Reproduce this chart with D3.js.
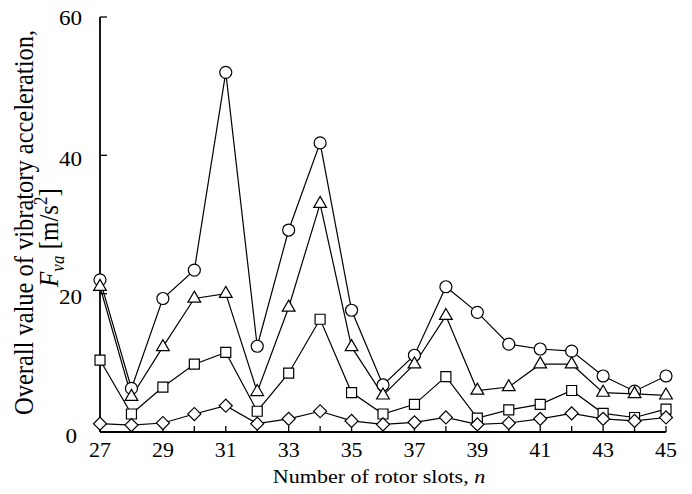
<!DOCTYPE html>
<html>
<head>
<meta charset="utf-8">
<script src="https://cdn.jsdelivr.net/npm/d3@7"></script>
<style>
  body { margin: 0; background: #fff; }
  svg { display: block; }
</style>
</head>
<body>
<svg id="chart" width="692" height="494" font-family="'Liberation Serif', 'Times New Roman', Times, serif"></svg>
<script>
const slots = [27,28,29,30,31,32,33,34,35,36,37,38,39,40,41,42,43,44,45];
const circleSeries   = [22.0,6.3,19.3,23.4,52.0,12.4,29.2,41.8,17.6,6.8,11.1,21.0,17.3,12.7,12.0,11.7,8.1,5.9,8.1];
const triangleSeries = [21.0,5.1,12.3,19.3,20.0,5.8,18.0,33.0,12.3,5.3,9.8,16.8,6.0,6.5,9.8,9.8,5.7,5.5,5.3];
const squareSeries   = [10.4,2.6,6.5,9.8,11.5,3.0,8.5,16.3,5.7,2.6,4.0,8.0,2.0,3.2,4.0,6.0,2.7,2.1,3.3];
const diamondSeries  = [1.2,1.0,1.3,2.6,3.8,1.2,1.9,3.0,1.6,1.1,1.4,2.1,1.1,1.3,1.9,2.7,1.9,1.6,2.1];
const xTickLabels = [27,29,31,33,35,37,39,41,43,45];
const yTickLabels = [0,20,40,60];

const FONT = "'Liberation Serif', 'Times New Roman', Times, serif";
const svg = d3.select("#chart");
const x = d3.scaleLinear().domain([27,45]).range([100,666]);
const y = d3.scaleLinear().domain([0,60]).range([432,17]);

// axes lines
svg.append("line").attr("x1",x(27)).attr("x2",x(45)).attr("y1",y(0)).attr("y2",y(0))
  .attr("stroke","#000").attr("stroke-width",1.8);
svg.append("line").attr("x1",x(27)).attr("x2",x(27)).attr("y1",y(0)).attr("y2",y(60))
  .attr("stroke","#000").attr("stroke-width",1.8);

// x ticks (inward)
svg.selectAll(".xt").data(slots).enter().append("line")
  .attr("x1",d=>x(d)).attr("x2",d=>x(d)).attr("y1",y(0)).attr("y2",y(0)-6)
  .attr("stroke","#000").attr("stroke-width",1.3);
svg.selectAll(".xl").data(xTickLabels).enter().append("text")
  .attr("font-family",FONT).attr("font-size",21).attr("text-anchor","middle")
  .attr("transform",d=>`translate(${x(d)},457) scale(1.04,1)`).text(d=>d);

// y ticks (inward)
svg.selectAll(".yt").data(yTickLabels.filter(d=>d>0)).enter().append("line")
  .attr("x1",x(27)).attr("x2",x(27)+7).attr("y1",d=>y(d)).attr("y2",d=>y(d))
  .attr("stroke","#000").attr("stroke-width",1.3);
svg.selectAll(".yl").data(yTickLabels).enter().append("text")
  .attr("font-family",FONT).attr("font-size",21).attr("text-anchor","end")
  .attr("transform",d=>`translate(${d===0 ? 77 : 82},${y(d) + (d===60 ? 8 : 10.5)}) scale(1.1,1)`)
  .text(d=>d);

// axis titles
svg.append("text").attr("font-family",FONT).attr("font-size",18.6).attr("text-anchor","middle")
  .attr("transform","translate(379,483) scale(1.18,1)")
  .attr("textLength", 180).attr("lengthAdjust","spacingAndGlyphs")
  .html('Number of rotor slots, <tspan font-style="italic">n</tspan>');

svg.append("text").attr("font-family",FONT).attr("font-size",24).attr("text-anchor","middle")
  .attr("transform","translate(33,222.5) scale(1.1,1) rotate(-90)")
  .attr("textLength", 385).attr("lengthAdjust","spacingAndGlyphs")
  .text("Overall value of vibratory acceleration,");

svg.append("text").attr("font-family",FONT).attr("font-size",25).attr("text-anchor","middle")
  .attr("transform","translate(58,237.5) scale(1.1,1) rotate(-90)")
  .html('<tspan font-style="italic">F</tspan><tspan font-style="italic" font-size="17" dy="5">va</tspan><tspan dy="-5"> [m/s</tspan><tspan font-size="17" dy="-10">2</tspan><tspan dy="10">]</tspan>');

const series = [
  {vals: circleSeries, sym: d3.symbolCircle, size: 113, rot: 0},
  {vals: triangleSeries, sym: d3.symbolTriangle, size: 70, rot: 0},
  {vals: squareSeries, sym: d3.symbolSquare, size: 100, rot: 0},
  {vals: diamondSeries, sym: d3.symbolSquare, size: 85, rot: 45}
];
const line = d3.line().x((d,i)=>x(slots[i])).y(d=>y(d));
series.forEach(s=>{
  svg.append("path").attr("d",line(s.vals)).attr("fill","none").attr("stroke","#000").attr("stroke-width",1.2);
});
series.forEach(s=>{
  const sym = d3.symbol().type(s.sym).size(s.size);
  svg.append("g").selectAll("path").data(s.vals).enter().append("path")
    .attr("d",sym).attr("transform",(d,i)=>`translate(${x(slots[i])},${y(d)}) rotate(${s.rot})`)
    .attr("fill","#fff").attr("stroke","#000").attr("stroke-width",1.2);
});
</script>
</body>
</html>
